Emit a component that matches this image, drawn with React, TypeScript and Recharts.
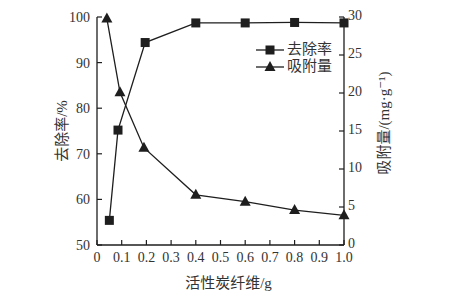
import React from "react";
import { LineChart, Line, XAxis, YAxis } from "recharts";

const removalX = [0.05, 0.085, 0.195, 0.4, 0.6, 0.8, 1.0];
const removalRate = [55.4, 75.2, 94.4, 98.7, 98.7, 98.8, 98.7];
const adsorptionX = [0.04, 0.093, 0.19, 0.4, 0.6, 0.8, 1.0];
const adsorptionAmount = [29.8, 20.1, 12.8, 6.6, 5.7, 4.6, 3.9];
const xTicks = [0, 0.1, 0.2, 0.3, 0.4, 0.5, 0.6, 0.7, 0.8, 0.9, 1.0];
const leftTicks = [50, 60, 70, 80, 90, 100];
const rightTicks = [0, 5, 10, 15, 20, 25, 30];
const seriesNames = ["去除率", "吸附量"];

const removalData = removalX.map((x, i) => ({ x, v: removalRate[i] }));
const adsorptionData = adsorptionX.map((x, i) => ({ x, v: adsorptionAmount[i] }));

const INK = "#1e1e1e";
const SERIF = "'Liberation Serif', 'DejaVu Serif', 'Noto Sans CJK SC', serif";

const Square = (props: any) => {
  const { cx, cy, index } = props;
  if (cx == null || cy == null) return <g key={index} />;
  return <rect key={index} x={cx - 4.5} y={cy - 4.5} width={9} height={9} fill={INK} />;
};

const Triangle = (props: any) => {
  const { cx, cy, index } = props;
  if (cx == null || cy == null) return <g key={index} />;
  return (
    <polygon
      key={index}
      points={`${cx},${cy - 6} ${cx - 5.5},${cy + 4} ${cx + 5.5},${cy + 4}`}
      fill={INK}
    />
  );
};

const LegendBox = () => (
  <div
    style={{
      position: "absolute",
      left: 256,
      top: 41,
      fontFamily: SERIF,
      fontSize: 15,
      color: "#333",
      lineHeight: "17px",
    }}
  >
    {seriesNames.map((name, i) => (
      <div key={name} style={{ display: "flex", alignItems: "center", height: 17 }}>
        <svg width={28} height={14} style={{ marginRight: 3 }}>
          <line x1={0} y1={7} x2={28} y2={7} stroke={INK} strokeWidth={1.3} />
          {i === 0 ? (
            <rect x={9.5} y={2.5} width={9} height={9} fill={INK} />
          ) : (
            <polygon points="14,1 8.5,11 19.5,11" fill={INK} />
          )}
        </svg>
        <span>{name}</span>
      </div>
    ))}
  </div>
);

const tickStyle = { fontFamily: SERIF, fontSize: 14, fill: "#333" };
const labelStyle = { fontFamily: SERIF, fontSize: 15, fill: "#333" };

export default function App() {
  return (
    <div style={{ position: "absolute", left: 0, top: 0, width: 450, height: 300, background: "#fff" }}>
      <LineChart width={450} height={300} margin={{ top: 17, right: 66, bottom: 25, left: 57 }}>
        <XAxis
          type="number"
          dataKey="x"
          domain={[0, 1]}
          ticks={xTicks}
          interval={0}
          tickFormatter={(v: number) => (v === 0 ? "0" : v.toFixed(1))}
          height={30}
          tickSize={-5}
          tickMargin={12}
          tick={tickStyle}
          axisLine={{ stroke: INK, strokeWidth: 1.3 }}
          tickLine={{ stroke: INK, strokeWidth: 1.2 }}
          allowDuplicatedCategory={false}
          label={{
            value: "活性炭纤维/g",
            position: "bottom",
            offset: 2,
            dx: 8,
            style: labelStyle,
          }}
        />
        <YAxis
          yAxisId="left"
          domain={[50, 100]}
          ticks={leftTicks}
          interval={0}
          width={40}
          tickSize={-5}
          tickMargin={12}
          tick={tickStyle}
          axisLine={{ stroke: INK, strokeWidth: 1.3 }}
          tickLine={{ stroke: INK, strokeWidth: 1.2 }}
          label={{
            value: "去除率/%",
            angle: -90,
            position: "insideLeft",
            offset: 5,
            style: { ...labelStyle, textAnchor: "middle" },
          }}
        />
        <YAxis
          yAxisId="right"
          orientation="right"
          domain={[0, 30]}
          ticks={rightTicks}
          interval={0}
          width={40}
          tickSize={-5}
          tickMargin={9}
          tick={{ ...tickStyle, dy: -2 }}
          axisLine={{ stroke: INK, strokeWidth: 1.3 }}
          tickLine={{ stroke: INK, strokeWidth: 1.2 }}
          label={{
            value: "吸附量/(mg·g⁻¹)",
            angle: -90,
            position: "insideRight",
            offset: 0,
            dy: -8,
            style: { ...labelStyle, textAnchor: "middle" },
          }}
        />
        <Line
          yAxisId="left"
          data={removalData}
          dataKey="v"
          name={seriesNames[0]}
          stroke={INK}
          strokeWidth={1.3}
          dot={Square}
          activeDot={false}
          isAnimationActive={false}
        />
        <Line
          yAxisId="right"
          data={adsorptionData}
          dataKey="v"
          name={seriesNames[1]}
          stroke={INK}
          strokeWidth={1.3}
          dot={Triangle}
          activeDot={false}
          isAnimationActive={false}
        />
      </LineChart>
      <LegendBox />
    </div>
  );
}
